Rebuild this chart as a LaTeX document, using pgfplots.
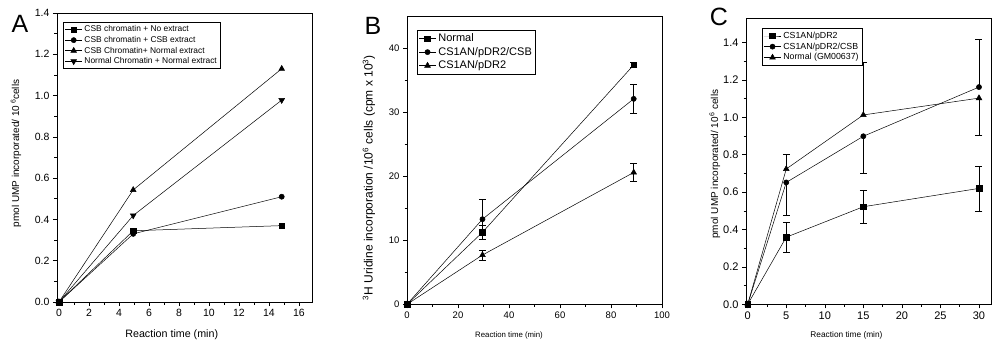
\documentclass[border=0pt]{standalone}
\usepackage{fontspec}
\setmainfont{Liberation Sans}
\usepackage{pgfplots}
\pgfplotsset{compat=1.18}
\pgfplotsset{
  panel/.style={
    scale only axis, anchor=south west,
    axis line style={line width=0.7pt},
    tick align=outside, xtick pos=bottom, ytick pos=left,
    major tick length=4pt, minor tick length=2.5pt,
    every tick/.style={black, line width=0.6pt},
    minor tick num=1,
    /pgf/number format/assume math mode=true,
    tick label style={font=\fontsize{10.5}{12}\selectfont},
    legend cell align=left,
    legend style={draw=black, line width=0.6pt, fill=white, anchor=north west, inner sep=1.5pt, row sep=-1pt},
    every axis plot/.append style={black, line width=0.5pt},
    xlabel style={anchor=center},
    ylabel style={anchor=center},
  },
  sq/.style={mark=square*, mark size=2.8pt, mark options={solid, fill=black}},
  ci/.style={mark=*, mark size=2.6pt, mark options={solid, fill=black}},
  tu/.style={mark=triangle*, mark size=3.3pt, mark options={solid, fill=black}},
  td/.style={mark=triangle*, mark size=3.3pt, mark options={solid, fill=black, rotate=180}},
  eb/.style={error bars/.cd, y dir=both, y explicit, error bar style={line width=0.5pt, black}, error mark options={rotate=90, mark size=3.5pt, line width=0.5pt, black}},
  ebup/.style={draw=none, mark=none, forget plot, error bars/.cd, y dir=plus, y explicit, error bar style={line width=0.5pt, black}, error mark options={rotate=90, mark size=3.5pt, line width=0.5pt, black}},
  ebdn/.style={draw=none, mark=none, forget plot, error bars/.cd, y dir=minus, y explicit, error bar style={line width=0.5pt, black}, error mark options={rotate=90, mark size=3.5pt, line width=0.5pt, black}},
}
\begin{document}
\begin{tikzpicture}
\useasboundingbox (0pt,0pt) rectangle (992pt,351pt);
% ---------------- Panel A ----------------
\begin{axis}[panel, at={(57pt,49pt)}, width=255pt, height=289pt,
  xmin=-0.13, xmax=16.87, ymin=0, ymax=1.4,
  xtick={0,2,...,16}, ytick={0,0.2,...,1.4},
  yticklabel style={/pgf/number format/.cd, fixed, fixed zerofill, precision=1},
  xlabel={Reaction time (min)},
  xlabel style={at={(axis description cs:0.45,-0.114)}, font=\fontsize{10.7}{12}\selectfont},
  ylabel={pmol UMP incorporated/ 10\,\textsuperscript{6}cells},
  ylabel style={at={(axis description cs:-0.161,0.514)}, font=\fontsize{10}{12}\selectfont},
  legend style={at={(axis description cs:0.024,0.969)}, font=\fontsize{8.4}{9.8}\selectfont},
]
\addplot[sq] coordinates {(0,0) (4.95,0.345) (14.85,0.37)};
\addlegendentry{CSB chromatin + No extract}
\addplot[ci] coordinates {(0,0) (4.95,0.33) (14.85,0.51)};
\addlegendentry{CSB chromatin + CSB extract}
\addplot[tu] coordinates {(0,0) (4.95,0.543) (14.85,1.13)};
\addlegendentry{CSB Chromatin+ Normal extract}
\addplot[td] coordinates {(0,0) (4.95,0.419) (14.85,0.978)};
\addlegendentry{Normal Chromatin + Normal extract}
\end{axis}
% ---------------- Panel B ----------------
\begin{axis}[panel, at={(407pt,46.7pt)}, width=255pt, height=288pt,
  xmin=0, xmax=100, ymin=0, ymax=45,
  xtick={0,20,...,100}, ytick={0,10,...,40},
  tick label style={font=\fontsize{9.5}{11}\selectfont},
  xlabel={Reaction time (min)},
  xlabel style={at={(axis description cs:0.40,-0.107)}, font=\fontsize{7.8}{9}\selectfont},
  ylabel={\textsuperscript{3}H Uridine incorporation /10\textsuperscript{6} cells (cpm x 10\textsuperscript{3})},
  ylabel style={at={(axis description cs:-0.149,0.44)}, font=\fontsize{12}{14}\selectfont},
  legend style={at={(axis description cs:0.039,0.952)}, font=\fontsize{11}{13.5}\selectfont, row sep=0pt},
]
\addplot[sq, eb] coordinates {(0,0) +- (0,0) (29.6,11.25) +- (0,1.15) (88.9,37.4) +- (0,0.4)};
\addlegendentry{Normal}
\addplot[ci, eb] coordinates {(0,0) +- (0,0) (29.6,13.3) +- (0,3.1) (88.9,32.1) +- (0,2.3)};
\addlegendentry{CS1AN/pDR2/CSB}
\addplot[tu, eb] coordinates {(0,0) +- (0,0) (29.6,7.7) +- (0,0.8) (88.9,20.6) +- (0,1.4)};
\addlegendentry{CS1AN/pDR2}
\end{axis}
% ---------------- Panel C ----------------
\begin{axis}[panel, at={(746pt,46.7pt)}, width=245pt, height=286pt,
  xmin=-0.22, xmax=31.56, ymin=0, ymax=1.53,
  xtick={0,5,...,30}, ytick={0,0.2,...,1.4},
  tick label style={font=\fontsize{11}{12}\selectfont},
  yticklabel style={/pgf/number format/.cd, fixed, fixed zerofill, precision=1},
  xlabel={Reaction time (min)},
  xlabel style={at={(axis description cs:0.41,-0.107)}, font=\fontsize{8.3}{10}\selectfont},
  ylabel={pmol UMP incorporated/ 10\textsuperscript{6} cells},
  ylabel style={at={(axis description cs:-0.127,0.49)}, font=\fontsize{10}{12}\selectfont},
  legend style={at={(axis description cs:0.065,0.966)}, font=\fontsize{8.8}{10.5}\selectfont},
]
% one-sided error bars (drawn first, under the markers)
\addplot[ebdn] coordinates {(5,0.652) +- (0,0.173) (15,0.899) +- (0,0.2)};
\addplot[ebup] coordinates {(30,1.162) +- (0,0.256)};
\addplot[ebup] coordinates {(5,0.724) +- (0,0.077) (15,1.013) +- (0,0.28)};
\addplot[ebdn] coordinates {(30,1.103) +- (0,0.2)};
\addplot[sq, eb] coordinates {(0,0) +- (0,0) (5,0.359) +- (0,0.08) (15,0.522) +- (0,0.087) (30,0.62) +- (0,0.12)};
\addlegendentry{CS1AN/pDR2}
\addplot[ci] coordinates {(0,0) (5,0.652) (15,0.899) (30,1.162)};
\addlegendentry{CS1AN/pDR2/CSB}
\addplot[tu] coordinates {(0,0) (5,0.724) (15,1.013) (30,1.103)};
\addlegendentry{Normal (GM00637)}
\end{axis}
% panel letters
\node[font=\fontsize{25}{28}\selectfont] at (20pt,327pt) {A};
\node[font=\fontsize{25}{28}\selectfont] at (373pt,325pt) {B};
\node[font=\fontsize{25}{28}\selectfont] at (719pt,334.5pt) {C};
\end{tikzpicture}
\end{document}
